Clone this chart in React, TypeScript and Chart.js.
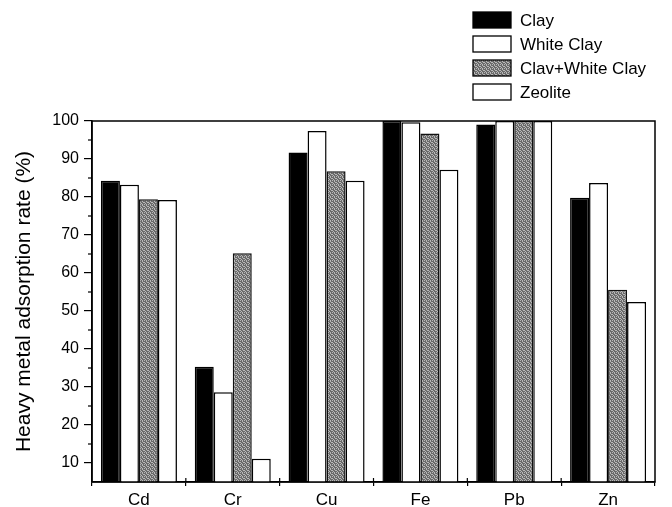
import React, { useEffect, useRef } from "react";
import { Chart, registerables } from "chart.js";

Chart.register(...registerables);

const categories = ["Cd", "Cr", "Cu", "Fe", "Pb", "Zn"];
const seriesNames = ["Clay", "White Clay", "Clav+White Clay", "Zeolite"];
const clay = [84.3, 35.3, 91.7, 100, 99.1, 79.8];
const whiteClay = [83.2, 28.6, 97.4, 99.7, 100, 83.7];
const clayWhiteClay = [79.4, 65.2, 86.8, 96.7, 100, 55.6];
const zeolite = [79.2, 11.1, 84.3, 87.2, 100, 52.4];
const yMajorTicks = [10, 20, 30, 40, 50, 60, 70, 80, 90, 100];
const yMinorTicks = [15, 25, 35, 45, 55, 65, 75, 85, 95];

const FONT = "'Liberation Sans', Arial, Helvetica, sans-serif";

function makeGreyPattern(): CanvasPattern | string {
  const c = document.createElement("canvas");
  c.width = 4;
  c.height = 4;
  const ctx = c.getContext("2d");
  if (!ctx) return "#8a8a8a";
  const map = [
    [0, 1, 0, 1],
    [1, 1, 0, 1],
    [0, 1, 1, 0],
    [1, 0, 1, 1],
  ];
  for (let y = 0; y < 4; y++) {
    for (let x = 0; x < 4; x++) {
      ctx.fillStyle = map[y][x] ? "#6a6a6a" : "#b8b8b8";
      ctx.fillRect(x, y, 1, 1);
    }
  }
  const p = ctx.createPattern(c, "repeat");
  return p || "#8a8a8a";
}

const framePlugin = {
  id: "frameAndLegend",
  afterDraw(chart: any) {
    const { ctx, chartArea } = chart;
    const y = chart.scales.y;
    const x = chart.scales.x;
    ctx.save();
    ctx.strokeStyle = "#000";
    ctx.lineWidth = 1.5;
    ctx.strokeRect(chartArea.left, chartArea.top, chartArea.right - chartArea.left, chartArea.bottom - chartArea.top);
    // minor y ticks
    ctx.lineWidth = 1.2;
    yMinorTicks.forEach((v) => {
      const py = y.getPixelForValue(v);
      ctx.beginPath();
      ctx.moveTo(chartArea.left - 4, py);
      ctx.lineTo(chartArea.left, py);
      ctx.stroke();
    });
    // inward part of x ticks
    for (let i = 1; i < categories.length; i++) {
      const px = (x.getPixelForValue(i - 1) + x.getPixelForValue(i)) / 2;
      ctx.beginPath();
      ctx.moveTo(px, chartArea.bottom);
      ctx.lineTo(px, chartArea.bottom - 4);
      ctx.stroke();
    }
    // legend
    ctx.font = `17px ${FONT}`;
    ctx.textBaseline = "middle";
    ctx.textAlign = "left";
    chart.data.datasets.forEach((ds: any, i: number) => {
      const cy = 20 + i * 24;
      ctx.fillStyle = ds.backgroundColor;
      ctx.fillRect(473, cy - 8, 38, 16);
      ctx.strokeStyle = "#000";
      ctx.lineWidth = 1.3;
      ctx.strokeRect(473, cy - 8, 38, 16);
      ctx.fillStyle = "#000";
      ctx.fillText(ds.label, 520, cy + 1);
    });
    ctx.restore();
  },
};

export default function App() {
  const ref = useRef<HTMLCanvasElement>(null);
  useEffect(() => {
    if (!ref.current) return;
    const grey = makeGreyPattern();
    const chart = new Chart(ref.current, {
      type: "bar",
      data: {
        labels: categories,
        datasets: [
          { label: seriesNames[0], data: clay, backgroundColor: "#000", borderColor: "#000", borderWidth: 1.5 },
          { label: seriesNames[1], data: whiteClay, backgroundColor: "#fff", borderColor: "#000", borderWidth: 1.5 },
          { label: seriesNames[2], data: clayWhiteClay, backgroundColor: grey as any, borderColor: "#111", borderWidth: 1.5 },
          { label: seriesNames[3], data: zeolite, backgroundColor: "#fff", borderColor: "#000", borderWidth: 1.5 },
        ],
      },
      options: {
        animation: false,
        responsive: false,
        maintainAspectRatio: false,
        layout: { padding: { top: 121, right: 17, left: 0, bottom: 0 } },
        datasets: { bar: { categoryPercentage: 0.81, barPercentage: 1 } },
        plugins: { legend: { display: false }, tooltip: { enabled: false } },
        scales: {
          x: {
            grid: { drawOnChartArea: false, tickLength: 4, color: "#000", lineWidth: 1.2, offset: true },
            border: { display: true, color: "#000", width: 1.5 },
            ticks: { color: "#000", font: { family: FONT, size: 17 }, padding: 4 },
            afterFit: (s: any) => { s.height = 25; },
          },
          y: {
            min: 5,
            max: 100,
            afterBuildTicks: (s: any) => { s.ticks = yMajorTicks.map((v) => ({ value: v })); },
            grid: { drawOnChartArea: false, tickLength: 8, color: "#000", lineWidth: 1.2 },
            border: { display: true, color: "#000", width: 1.5 },
            ticks: { color: "#000", font: { family: FONT, size: 16 }, padding: 5 },
            title: {
              display: true,
              text: "Heavy metal adsorption rate (%)",
              color: "#000",
              font: { family: FONT, size: 21 },
              padding: { top: 12, bottom: 0 },
            },
            afterFit: (s: any) => { s.width = 92; },
          },
        },
      },
      plugins: [framePlugin],
    });
    return () => chart.destroy();
  }, []);
  return (
    <div style={{ position: "fixed", left: 0, top: 0, width: 672, height: 507, background: "#fff" }}>
      <canvas ref={ref} width={672} height={507} style={{ display: "block" }} />
    </div>
  );
}
